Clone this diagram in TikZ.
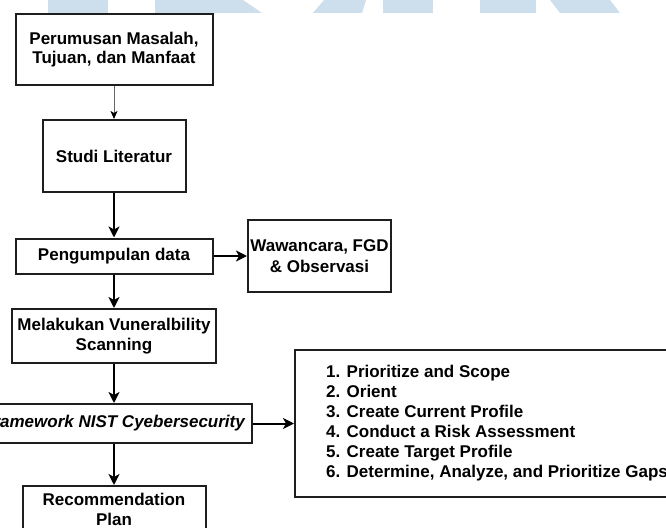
\documentclass[tikz,border=0pt]{standalone}
\usepackage{fontspec}
\setmainfont{Liberation Sans}
\usetikzlibrary{arrows.meta}
\definecolor{wm}{RGB}{205,222,237}
\definecolor{edgec}{RGB}{30,30,30}
\begin{document}
\begin{tikzpicture}[x=1pt,y=-1pt,
  box/.style={draw=edgec, line width=2pt, fill=white, align=center, inner sep=0pt,
    font=\fontsize{17}{19.5}\selectfont\bfseries},
  arr/.style={draw=black, line width=2pt, -{Stealth[length=11pt,width=11pt,inset=3pt]}},
  thinarr/.style={draw=black!60, line width=1pt, -{Stealth[length=8pt,width=7pt,inset=2pt,black]}},
  wmark/.style={fill=wm, draw=none}]
\clip (0,0) rectangle (666,527);
\useasboundingbox (0,0) rectangle (666,527);
% watermark
\fill[wmark] (48,0) -- (108,0) -- (108,13) -- (48,13) -- cycle;
\fill[wmark] (155,0) -- (243,0) -- (262,13) -- (155,13) -- cycle;
\fill[wmark] (324,0) -- (366,0) -- (362,13) -- (313,13) -- cycle;
\fill[wmark] (383,0) -- (433,0) -- (433,13) -- (383,13) -- cycle;
\fill[wmark] (480,0) -- (536,0) -- (536,13) -- (480,13) -- cycle;
\fill[wmark] (550,0) -- (610,0) -- (620,13) -- (560,13) -- cycle;
% nodes
\node[box, minimum width=197pt, minimum height=71pt] (p) at (114,49.5) {Perumusan Masalah,\\Tujuan, dan Manfaat};
\node[box, minimum width=143pt, minimum height=72pt] (s) at (114,156) {Studi Literatur};
\node[box, minimum width=197pt, minimum height=35pt] (pg) at (114,256) {Pengumpulan data};
\node[box, minimum width=143pt, minimum height=72pt, font=\fontsize{17}{21}\selectfont\bfseries] (w) at (319.5,256) {Wawancara, FGD\\\& Observasi};
\node[box, minimum width=204pt, minimum height=54pt] (m) at (114,336) {Melakukan Vuneralbility\\Scanning};
\node[box, minimum width=276pt, minimum height=39pt, font=\fontsize{17}{19.5}\selectfont\bfseries\itshape] (fw) at (114,423.5) {Framework NIST Cyebersecurity};
\node[box, minimum width=425pt, minimum height=147pt] (r) at (507.5,423.5) {};
\node[align=left, anchor=west, inner sep=0pt, font=\fontsize{17}{20}\selectfont\bfseries] (lst) at (326,423.5)
  {1. Prioritize and Scope\\2. Orient\\3. Create Current Profile\\4. Conduct a Risk Assessment\\5. Create Target Profile\\6. Determine, Analyze, and Prioritize Gaps};
\node[box, minimum width=183pt, minimum height=47pt] (rec) at (114,509.5) {Recommendation\\Plan};
% connectors
\draw[thinarr] (p.south) -- (s.north);
\draw[arr] (s.south) -- (pg.north);
\draw[arr] (pg.east) -- (w.west);
\draw[arr] (pg.south) -- (m.north);
\draw[arr] (m.south) -- (fw.north);
\draw[arr] (fw.east) -- (r.west);
\draw[arr] (fw.south) -- (rec.north);
\end{tikzpicture}
\end{document}
